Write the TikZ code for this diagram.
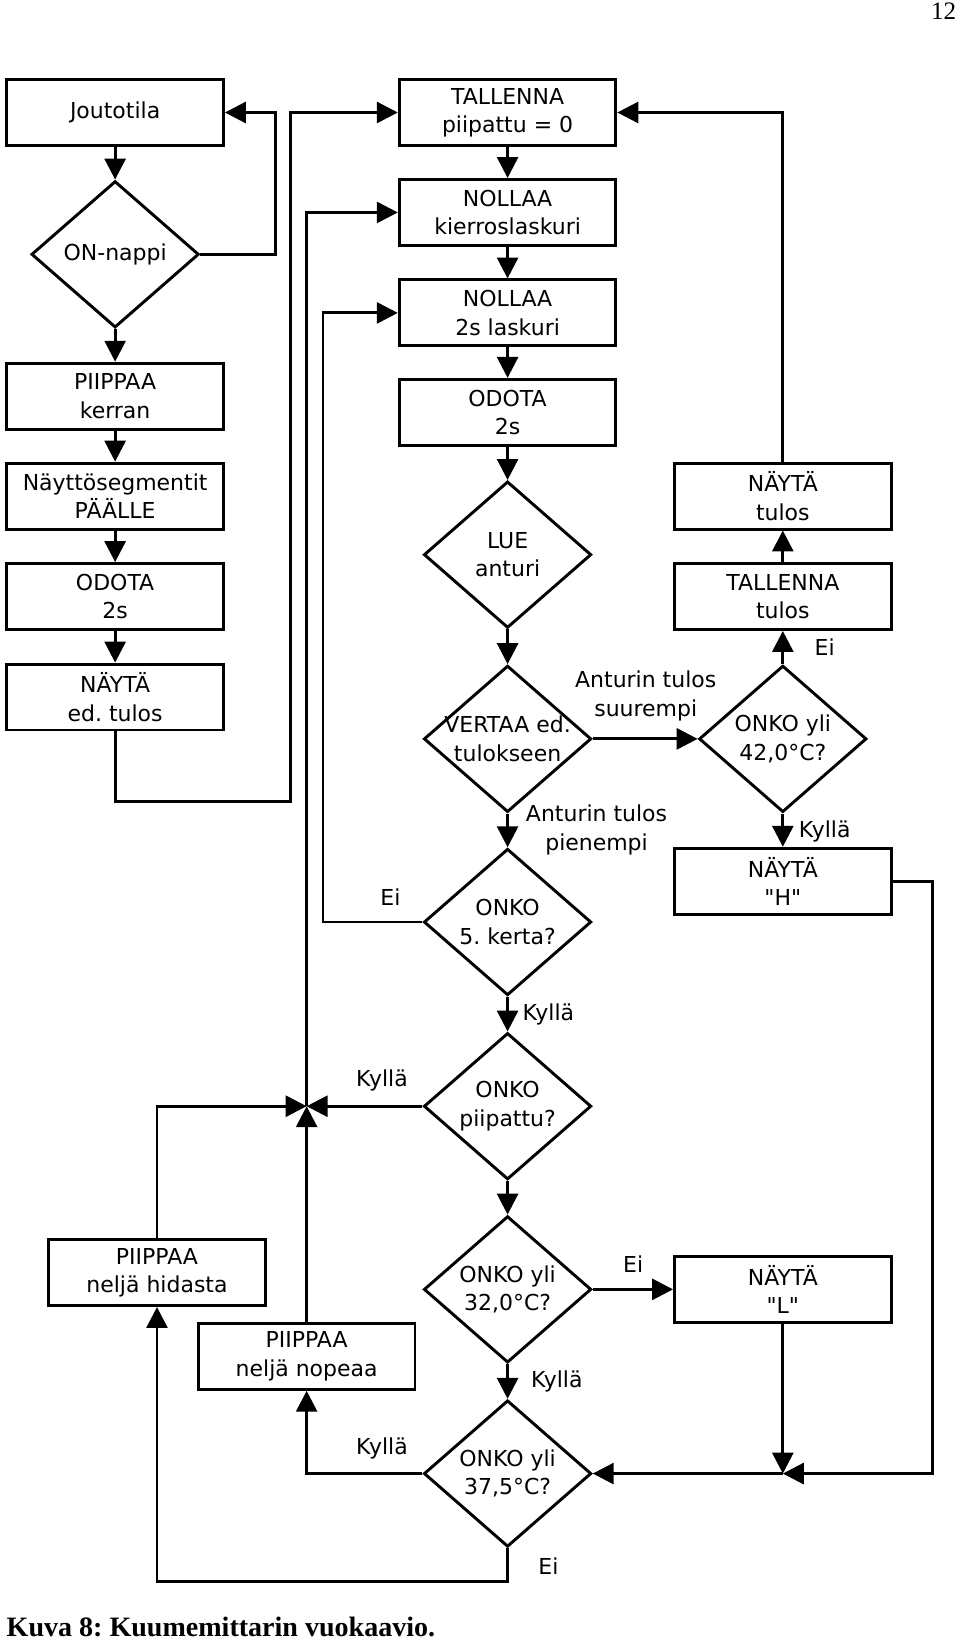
\documentclass[tikz,border=0pt]{standalone}
\usepackage{fontspec}
\setmainfont{DejaVu Sans}[Ligatures=TeXOff]
\newfontfamily\capserif{Liberation Serif}
\usetikzlibrary{arrows.meta,shapes.geometric}
\frenchspacing
\tikzset{
    >={Triangle[length=10pt,width=10pt]},
    flow/.style={
        x=0.5pt,y=-0.5pt,line width=1.4pt,
        font=\fontsize{10.5}{13.5}\selectfont,
        box/.append style={draw,rectangle,align=center,minimum width=103.5pt,minimum height=31.5pt,inner sep=2pt},
        dia/.append style={draw,diamond,minimum width=80pt,minimum height=70pt,inner sep=0pt},
        txt/.append style={align=center,inner sep=0pt},
        every edge/.append style={draw,->}
    }
}

\begin{document}
\begin{tikzpicture}[flow]
    \useasboundingbox (0,0) rectangle (917,1568);
    % vasen sarake
    \node[box] (idle) at (110,107.5) {Joutotila};
    \node[dia,label={[txt]center:ON-nappi}] (onbtn) at (110,243) {} edge[<-] (idle);
    \node[box] (beep1) at (110,378.5) {PIIPPAA\\kerran} edge[<-] (onbtn);
    \node[box] (segon) at (110,474) {Näyttösegmentit\\PÄÄLLE} edge[<-] (beep1);
    \node[box] (wait1) at (110,570) {ODOTA\\2s} edge[<-] (segon);
    \node[box] (showprev) at (110,666) {NÄYTÄ\\ed. tulos} edge[<-] (wait1);
    % keskisarake
    \node[box] (savebeep) at (485,107.5) {TALLENNA\\piipattu = 0};
    \node[box] (rstlap) at (485,203) {NOLLAA\\kierroslaskuri} edge[<-] (savebeep);
    \node[box] (rsttimer) at (485,299) {NOLLAA\\2s laskuri} edge[<-] (rstlap);
    \node[box] (wait2) at (485,394) {ODOTA\\2s} edge[<-] (rsttimer);
    \node[dia,label={[txt]center:{LUE\\anturi}}] (readsens) at (485,530) {} edge[<-] (wait2);
    \node[dia,label={[txt]center:{VERTAA ed.\\tulokseen}}] (compare) at (485,706) {} edge[<-] (readsens);
    \node[dia,label={[txt]center:{ONKO\\5. kerta?}}] (fifth) at (485,881) {} edge[<-] (compare);
    \node[dia,label={[txt]center:{ONKO\\piipattu?}}] (beeped) at (485,1057) {} edge[<-] (fifth);
    \node[dia,label={[txt]center:{ONKO yli\\32,0°C?}}] (over32) at (485,1232) {} edge[<-] (beeped);
    \node[dia,label={[txt]center:{ONKO yli\\37,5°C?}}] (over375) at (485,1408) {} edge[<-] (over32);
    % oikea sarake
    \node[dia,label={[txt]center:{ONKO yli\\42,0°C?}}] (over42) at (748,706) {} edge[<-] (compare);
    \node[box] (saveres) at (748,570) {TALLENNA\\tulos} edge[<-] (over42);
    \node[box] (showres) at (748,474) {NÄYTÄ\\tulos} edge[<-] (saveres);
    \node[box] (showH) at (748,842) {NÄYTÄ\\"H"} edge[<-] (over42);
    \node[box] (showL) at (748,1232) {NÄYTÄ\\"L"} edge[<-] (over32);
    % piippaukset
    \node[box] (slow) at (150,1216) {PIIPPAA\\neljä hidasta};
    \node[box] (fast) at (293,1296) {PIIPPAA\\neljä nopeaa};
    \coordinate (m) at (293,1057);
    \coordinate (j) at (748,1408);

    \draw[->] (onbtn.east) -- ++(72,0) |- (idle.east);
    \draw[->] (showprev.south) -- ++(0,67) -- ++(168,0) |- (savebeep.west);
    \draw[->] (showres.north) |- (savebeep.east);
    \draw[->] (fifth.west) -- ++(-95,0) |- (rsttimer.west);
    \draw[->] (beeped.west) -- (m);
    \draw[->] (slow.north) |- (m);
    \draw[->] (fast.north) -- (m);
    \draw[->] (m) |- (rstlap.west);
    \draw[->] (over375.west) -| (fast.south);
    \draw[->] (over375.south) -- ++(0,32) -| (slow.south);
    \draw[->] (showL.south) -- (j);
    \draw[->] (showH.east) -- ++(38,0) |- (j);
    \draw[->] (j) -- (over375.east);

    \node[txt] (lbigger) at (617,665) {Anturin tulos\\suurempi};
    \node[txt] (lsmaller) at (570,793) {Anturin tulos\\pienempi};
    \node[txt] (lno1) at (788,618) {Ei};
    \node[txt] (lyes1) at (788,794) {Kyllä};
    \node[txt] (lno2) at (373,857) {Ei};
    \node[txt] (lyes2) at (524,969) {Kyllä};
    \node[txt] (lyes3) at (365,1032) {Kyllä};
    \node[txt] (lno3) at (605,1208) {Ei};
    \node[txt] (lyes4) at (532,1320) {Kyllä};
    \node[txt] (lyes5) at (365,1384) {Kyllä};
    \node[txt] (lno4) at (524,1496) {Ei};

    \node[anchor=base east,inner sep=0pt,font=\capserif\fontsize{12}{14}\selectfont] (pagenum) at (915,19) {12};
    \node[anchor=base west,inner sep=0pt,font=\capserif\bfseries\fontsize{13.4}{16}\selectfont] (caption) at (5,1564) {Kuva 8: Kuumemittarin vuokaavio.};
\end{tikzpicture}
\end{document}
